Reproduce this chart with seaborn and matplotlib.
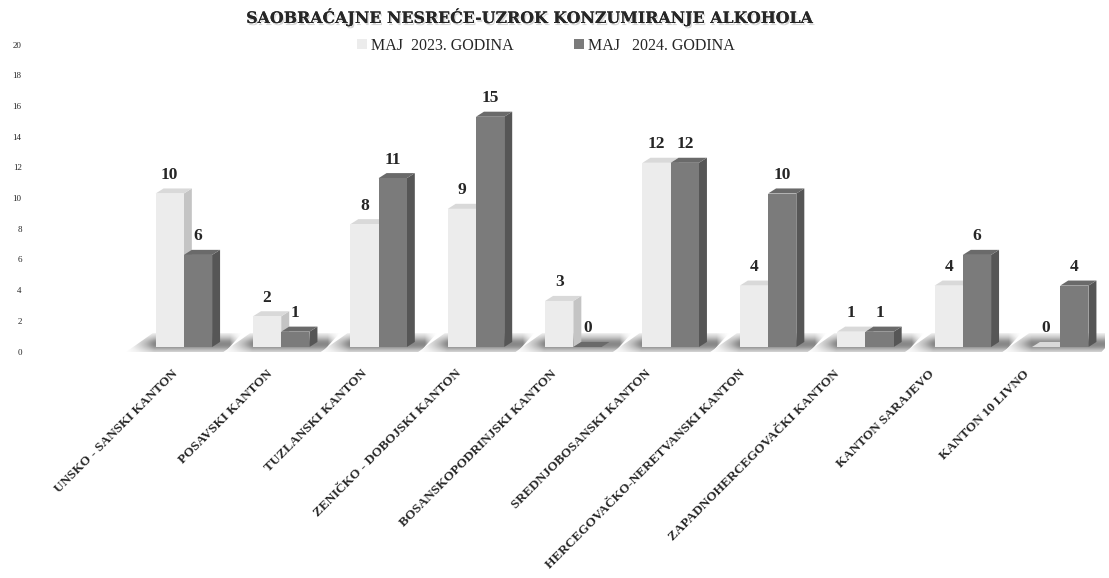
import numpy as np
import pandas as pd
import seaborn as sns
import matplotlib
matplotlib.use('Agg')
from matplotlib import pyplot as plt
from matplotlib.patches import Polygon, Patch
from matplotlib.transforms import ScaledTranslation
import matplotlib.patheffects as pe

# Data
cantons = ['UNSKO - SANSKI KANTON', 'POSAVSKI KANTON', 'TUZLANSKI KANTON',
           'ZENIČKO - DOBOJSKI KANTON', 'BOSANSKOPODRINJSKI KANTON',
           'SREDNJOBOSANSKI KANTON', 'HERCEGOVAČKO-NERETVANSKI KANTON',
           'ZAPADNOHERCEGOVAČKI KANTON', 'KANTON SARAJEVO', 'KANTON 10 LIVNO']
years = ['MAJ  2023. GODINA', 'MAJ   2024. GODINA']
values2023 = [10, 2, 8, 9, 3, 12, 4, 1, 4, 0]
values2024 = [6, 1, 11, 15, 0, 12, 10, 1, 6, 4]
yTicks = list(range(0, 21, 2))
title = 'SAOBRAĆAJNE NESREĆE-UZROK KONZUMIRANJE ALKOHOLA'

frontColors = ['#ececec', '#7b7b7b']
sideColors = ['#c4c4c4', '#565656']
topColors = ['#d9d9d9', '#6a6a6a']

df = pd.DataFrame({
    'kanton': cantons * 2,
    'godina': [years[0]] * len(cantons) + [years[1]] * len(cantons),
    'broj': values2023 + values2024,
})

sns.set_style('white')
plt.rcParams['font.family'] = ['Liberation Serif', 'DejaVu Serif']

fig = plt.figure(figsize=(11.09, 5.78), dpi=100)
# y from -0.35 to 20 -> a bit of room below zero for the floor shadow
ax = fig.add_axes([30 / 1109, (578 - 352.4) / 578, 1075 / 1109, 312.4 / 578])

sns.barplot(data=df, x='kanton', y='broj', hue='godina', palette=frontColors,
            width=0.58, saturation=1, legend=False, ax=ax, zorder=3,
            edgecolor='none')

# 3D look: side and top faces built from the seaborn bars
dx, dy = 0.082, 0.33
for i, p in enumerate(ax.patches):
    k = i // len(cantons)
    x0, w, h = p.get_x(), p.get_width(), p.get_height()
    side = Polygon([(x0 + w, 0), (x0 + w + dx, dy), (x0 + w + dx, h + dy), (x0 + w, h)],
                   closed=True, facecolor=sideColors[k], edgecolor='none', zorder=2)
    top = Polygon([(x0, h), (x0 + dx, h + dy), (x0 + w + dx, h + dy), (x0 + w, h)],
                  closed=True, facecolor=topColors[k], edgecolor='none', zorder=2)
    ax.add_patch(side)
    ax.add_patch(top)
    ax.annotate(str(int(h)), xy=(x0 + w / 2, h + dy), xytext=(0, 4),
                textcoords='offset points', ha='center', va='bottom',
                fontsize=12.5, fontweight='bold', zorder=5)

# floor shadow under each group (slanted, fading)
xs = np.linspace(-0.6, 0.6, 120)
ys = np.linspace(-0.35, 0.9, 60)
vert = np.exp(-((ys - 0.15) / 0.6) ** 2)
horiz = np.clip((xs + 0.6) / 0.3, 0, 1) * np.clip((0.6 - xs) / 0.12, 0, 1)
shade = 0.55 * vert[:, None] * horiz[None, :]
for c in range(len(cantons)):
    img = ax.imshow(shade, extent=(c - 0.6, c + 0.6, -0.35, 0.9), origin='lower',
                    cmap='Greys', vmin=0, vmax=1, aspect='auto', zorder=1)
    clip = Polygon([(c - 0.6, -0.35), (c + 0.42, -0.35), (c + 0.6, 0.9), (c - 0.32, 0.9)],
                   closed=True, transform=ax.transData)
    img.set_clip_path(clip)

ax.set_xlim(-1.58, 9.46)
ax.set_ylim(-0.35, 20)
ax.set_yticks(yTicks)
ax.set_xticks(range(len(cantons)))
ax.set_xticklabels(cantons, rotation=45, ha='right', va='center',
                   rotation_mode='anchor', fontweight='bold', fontsize=9.5)
ax.tick_params(axis='x', length=0, pad=14)
ax.tick_params(axis='y', length=0, labelsize=6.5, pad=6)
ax.set_xlabel('')
ax.set_ylabel('')
sns.despine(ax=ax, left=True, bottom=True)

# labels drift left towards the right side (perspective of the original)
n = len(cantons)
for i, lab in enumerate(ax.get_xticklabels()):
    shift = -(0.08 + 0.25 * i / (n - 1))
    lab.set_transform(lab.get_transform() + ScaledTranslation(shift, 0, fig.dpi_scale_trans))
for lab in ax.get_yticklabels():
    lab.set_transform(lab.get_transform() + ScaledTranslation(0, -0.045, fig.dpi_scale_trans))

fig.text(531 / 1109, 1 - 17 / 578, title, ha='center', va='center',
         fontsize=11.4, fontweight='bold', family=['DejaVu Serif'],
         path_effects=[pe.withSimplePatchShadow(offset=(1, -1.5), shadow_rgbFace='gray', alpha=0.3),
                       pe.Normal()])

handles = [Patch(facecolor=c, edgecolor='none') for c in frontColors]
fig.legend(handles, years, loc='center', bbox_to_anchor=(546 / 1109, 1 - 46 / 578),
           ncol=2, frameon=False, fontsize=11.5, handlelength=0.6, handleheight=0.6,
           handletextpad=0.25, columnspacing=3.8)

plt.savefig('out.png', dpi=100)
